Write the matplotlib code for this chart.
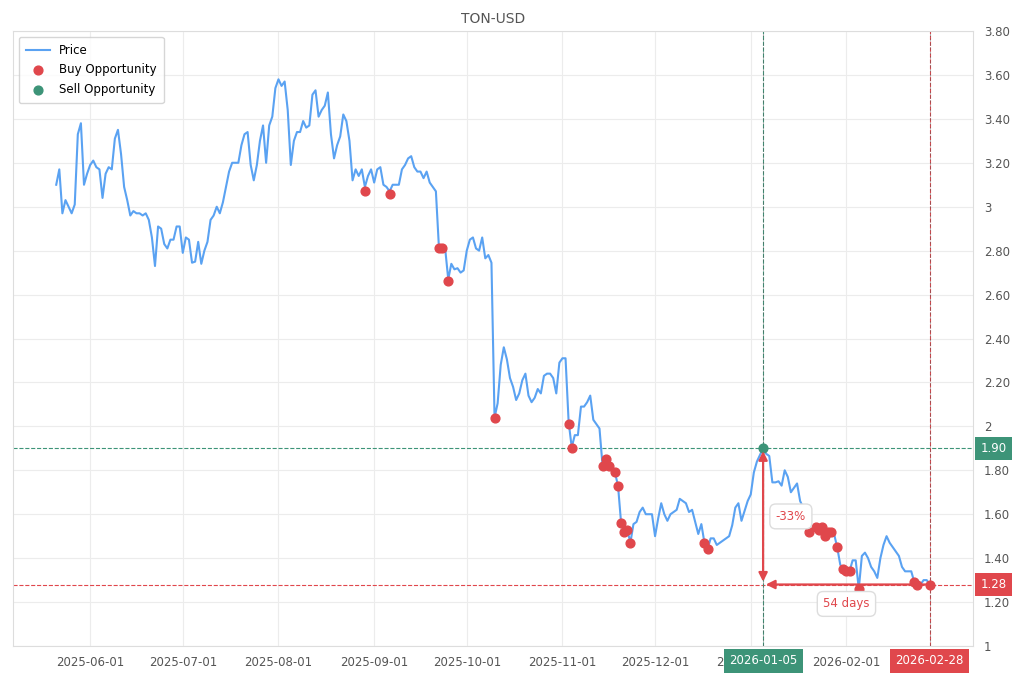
import numpy as np
import pandas as pd
import matplotlib
matplotlib.use('Agg')
from matplotlib import pyplot as plt
from matplotlib import transforms
import matplotlib.dates as mdates

ticker = 'TON-USD'
start_date = '2025-05-21'
end_date = '2026-02-28'

# daily close
price = [
    3.10, 3.17, 2.97, 3.03, 3.00, 2.97, 3.01, 3.33, 3.38, 3.10,
    3.15, 3.19, 3.21, 3.18, 3.17, 3.04, 3.15, 3.18, 3.17, 3.31,
    3.35, 3.24, 3.09, 3.03, 2.96, 2.98, 2.97, 2.97, 2.96, 2.97,
    2.94, 2.86, 2.73, 2.91, 2.90, 2.83, 2.81, 2.85, 2.85, 2.91,
    2.91, 2.79, 2.86, 2.85, 2.745, 2.75, 2.84, 2.74, 2.80, 2.84,
    2.94, 2.96, 3.00, 2.97, 3.02, 3.09, 3.16, 3.20, 3.20, 3.20,
    3.28, 3.33, 3.34, 3.19, 3.12, 3.19, 3.30, 3.37, 3.20, 3.37,
    3.41, 3.54, 3.58, 3.55, 3.57,
    3.44, 3.19, 3.30, 3.34, 3.34, 3.39, 3.36, 3.37, 3.51, 3.53,
    3.41, 3.44, 3.46, 3.52, 3.33, 3.22, 3.28, 3.32, 3.42, 3.39,
    3.30, 3.12, 3.17, 3.14, 3.17, 3.09, 3.14, 3.17, 3.11, 3.17,
    3.18, 3.10, 3.09, 3.07, 3.10, 3.10, 3.10, 3.17, 3.19, 3.22,
    3.23, 3.18, 3.16, 3.16, 3.13, 3.16, 3.11, 3.09, 3.07, 2.81,
    2.81, 2.81, 2.67, 2.74, 2.715, 2.72, 2.70, 2.71, 2.80, 2.85,
    2.86, 2.81, 2.80, 2.86, 2.765, 2.78, 2.745,
    2.04, 2.105, 2.28, 2.36, 2.305, 2.22, 2.18, 2.12, 2.15, 2.21,
    2.24, 2.14, 2.11, 2.13, 2.17, 2.15, 2.23, 2.24, 2.24, 2.22,
    2.15, 2.29, 2.31, 2.31, 2.02, 1.905, 1.96, 1.96, 2.09, 2.09,
    2.11, 2.14, 2.03, 2.01, 1.99, 1.82, 1.85, 1.82, 1.82, 1.79,
    1.73, 1.56, 1.52, 1.53, 1.47, 1.555, 1.565, 1.61, 1.63, 1.60,
    1.60, 1.60, 1.50, 1.58, 1.65, 1.60, 1.57, 1.60, 1.61, 1.62,
    1.67, 1.66, 1.65, 1.61, 1.62, 1.565, 1.51, 1.555, 1.47, 1.44,
    1.49, 1.49, 1.46, 1.47, 1.48, 1.49, 1.50, 1.55, 1.63, 1.65,
    1.57, 1.615, 1.66, 1.69, 1.79, 1.84, 1.87, 1.90,
    1.875, 1.865, 1.745, 1.745, 1.75, 1.73, 1.80, 1.77, 1.70, 1.72,
    1.74, 1.66, 1.63, 1.58, 1.52, 1.53, 1.54, 1.53, 1.54, 1.50,
    1.52, 1.52, 1.51, 1.45, 1.37, 1.35, 1.34, 1.34, 1.39, 1.39,
    1.26, 1.41, 1.425, 1.40, 1.36, 1.34, 1.31, 1.40, 1.46, 1.50,
    1.47, 1.45, 1.43, 1.41, 1.36, 1.34, 1.34, 1.34, 1.29, 1.28,
    1.28, 1.30, 1.30, 1.28,
]

buy_dates = ['2025-08-29', '2025-09-06', '2025-09-22', '2025-09-23', '2025-09-25',
             '2025-10-10', '2025-11-03', '2025-11-04', '2025-11-14', '2025-11-15',
             '2025-11-16', '2025-11-18', '2025-11-19', '2025-11-20', '2025-11-21',
             '2025-11-22', '2025-11-23', '2025-12-17', '2025-12-18', '2026-01-20',
             '2026-01-22', '2026-01-23', '2026-01-24', '2026-01-25', '2026-01-26',
             '2026-01-27', '2026-01-29', '2026-01-31', '2026-02-01', '2026-02-02',
             '2026-02-05', '2026-02-23', '2026-02-24', '2026-02-28']
buy_prices = [3.07, 3.06, 2.81, 2.81, 2.66,
              2.04, 2.01, 1.90, 1.82, 1.85,
              1.82, 1.79, 1.73, 1.56, 1.52,
              1.53, 1.47, 1.47, 1.44, 1.52,
              1.54, 1.53, 1.54, 1.50, 1.52,
              1.52, 1.45, 1.35, 1.34, 1.34,
              1.26, 1.29, 1.28, 1.28]

sell_dates = ['2026-01-05']
sell_prices = [1.90]

month_ticks = ['2025-06-01', '2025-07-01', '2025-08-01', '2025-09-01', '2025-10-01',
               '2025-11-01', '2025-12-01', '2026-01-01', '2026-02-01']
y_ticks = [1.0, 1.2, 1.4, 1.6, 1.8, 2.0, 2.2, 2.4, 2.6, 2.8, 3.0, 3.2, 3.4, 3.6, 3.8]

blue = '#5aa2f2'
red = '#e0474c'
green = '#3d9478'
grey = '#555555'

dates = pd.date_range(start_date, end_date, freq='D')
df = pd.DataFrame({'price': price}, index=dates)
buy_dates = pd.to_datetime(buy_dates)
sell_dates = pd.to_datetime(sell_dates)

sell_day = sell_dates[-1]
sell_px = sell_prices[-1]
last_day = df.index[-1]
last_px = df['price'].iloc[-1]
change = (last_px - sell_px) / sell_px * 100
n_days = (last_day - sell_day).days

fig = plt.figure(figsize=(10.2, 6.8), dpi=100)
ax = fig.add_axes([13 / 1020, 34 / 680, 960 / 1020, 615 / 680])

ax.plot(df.index, df['price'], color=blue, lw=1.5, label='Price', zorder=3)
ax.scatter(buy_dates, buy_prices, color=red, s=40, label='Buy Opportunity', zorder=4)
ax.scatter(sell_dates, sell_prices, color=green, s=40, label='Sell Opportunity', zorder=4)

# reference lines
ax.axhline(sell_px, color=green, ls='--', lw=0.8, zorder=2)
ax.axhline(last_px, color=red, ls='--', lw=0.8, zorder=2)
ax.axvline(sell_day, color=green, ls='--', lw=0.8, zorder=2)
ax.axvline(last_day, color=red, ls='--', lw=0.8, zorder=2)
ax.axvline(sell_day, color='#555555', ls='--', lw=0.6, alpha=0.5, zorder=2)
ax.axvline(last_day, color='#555555', ls='--', lw=0.6, alpha=0.5, zorder=2)

# arrows
ax.annotate('', xy=(sell_day, sell_px), xytext=(sell_day, last_px),
            arrowprops=dict(arrowstyle='<|-|>', color=red, lw=1.6, mutation_scale=13,
                            shrinkA=2, shrinkB=2), zorder=5)
ax.annotate('', xy=(sell_day, last_px), xytext=(last_day, last_px),
            arrowprops=dict(arrowstyle='-|>', color=red, lw=1.6, mutation_scale=13,
                            shrinkA=0, shrinkB=2), zorder=5)

box = dict(boxstyle='round,pad=0.5', fc='white', ec='#dddddd', lw=1)
ax.annotate(f'{change:.0f}%', xy=(sell_day, (sell_px + last_px) / 2), xytext=(20, 0),
            textcoords='offset points', ha='center', va='center', color=red,
            fontsize=8.5, bbox=box, zorder=6)
mid_day = sell_day + (last_day - sell_day) / 2
ax.annotate(f'{n_days} days', xy=(mid_day, last_px), xytext=(0, -14),
            textcoords='offset points', ha='center', va='center', color=red,
            fontsize=8.5, bbox=box, zorder=6)

ax.set_xlim(df.index[0] - pd.Timedelta(days=14), df.index[-1] + pd.Timedelta(days=14))
ax.set_ylim(1, 3.8)

ax.yaxis.tick_right()
ax.set_yticks(y_ticks)
ax.set_yticklabels([str(int(round(v))) if abs(v - round(v)) < 1e-9 else f'{v:.2f}' for v in y_ticks])
ax.set_xticks(pd.to_datetime(month_ticks))
ax.xaxis.set_major_formatter(mdates.DateFormatter('%Y-%m-%d'))
ax.tick_params(axis='both', length=0, labelsize=8.5, labelcolor=grey)
ax.tick_params(axis='y', pad=8)
ax.tick_params(axis='x', pad=7)

ax.grid(True, color='#ececec', lw=0.8)
ax.set_axisbelow(True)
for s in ax.spines.values():
    s.set_color('#dddddd')

ax.set_title(ticker, fontsize=10, color=grey, pad=6)

# value / date tags on the axes
ty = transforms.blended_transform_factory(ax.transAxes, ax.transData)
tx = transforms.blended_transform_factory(ax.transData, ax.transAxes)
ax.text(1.008, sell_px, f'{sell_px:.2f}', transform=ty, ha='left', va='center', color='white',
        fontsize=8.5, bbox=dict(boxstyle='square,pad=0.45', fc=green, ec='none'), zorder=7, clip_on=False)
ax.text(1.008, last_px, f'{last_px:.2f}', transform=ty, ha='left', va='center', color='white',
        fontsize=8.5, bbox=dict(boxstyle='square,pad=0.45', fc=red, ec='none'), zorder=7, clip_on=False)
ax.text(sell_day, -0.024, sell_day.strftime('%Y-%m-%d'), transform=tx, ha='center', va='center',
        color='white', fontsize=8.5, bbox=dict(boxstyle='square,pad=0.45', fc=green, ec='none'),
        zorder=7, clip_on=False)
ax.text(last_day, -0.024, last_day.strftime('%Y-%m-%d'), transform=tx, ha='center', va='center',
        color='white', fontsize=8.5, bbox=dict(boxstyle='square,pad=0.45', fc=red, ec='none'),
        zorder=7, clip_on=False)

leg = ax.legend(loc='upper left', fontsize=8.5, frameon=True, borderpad=0.6, labelspacing=0.55)
leg.get_frame().set_edgecolor('#cccccc')

plt.savefig('out.png', dpi=100)
plt.close()
